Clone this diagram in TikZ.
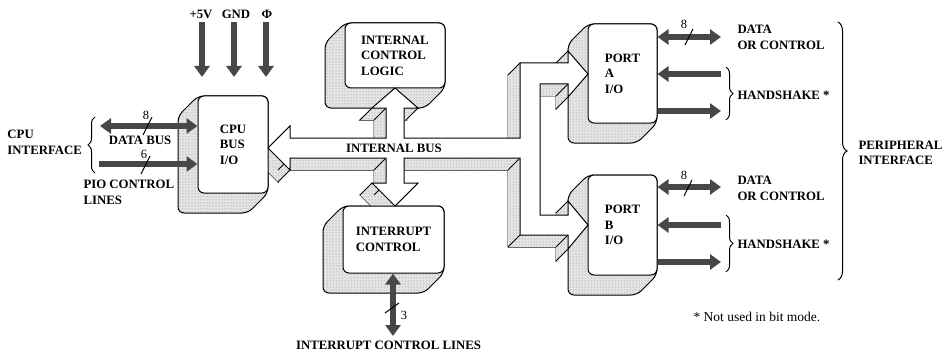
\documentclass[tikz,border=0pt]{standalone}
\usepackage{fontspec}
\setmainfont{Liberation Serif}
\usetikzlibrary{arrows.meta,calc,patterns,decorations.pathreplacing}
\newcommand\lblfont{\bfseries\fontsize{12.8}{15.5}\selectfont}
\newcommand\numfont{\fontsize{12.5}{13}\selectfont}
\begin{document}
\begin{tikzpicture}[x=1pt,y=-1pt,line width=1pt,
  stip/.style={preaction={fill=black!10},preaction={pattern=dots,pattern color=black!50}},
  face/.style={draw,fill=white,rounded corners=6pt,line width=1pt,align=left,font=\lblfont,inner sep=0pt},
  lbl/.style={font=\lblfont,inner sep=0pt,align=left},
  num/.style={font=\numfont,inner sep=0pt},
  sig/.style={draw=black!72,line width=6.5pt,line cap=butt},
  >={Triangle[width=15pt,length=11pt]},
  brc/.style={decorate,decoration={brace,amplitude=7pt},line width=1pt}]
\useasboundingbox (0,0) rectangle (951,353);

% ---------- box shadows (extruded back parts)
\newcommand\boxshadow[4]{%
  \draw[stip,rounded corners=6pt] (#1,#2) -- (#3,#2) -- (#3,#4) -- (#3-20,#4+20)
     -- (#1-20,#4+20) -- (#1-20,#2+20) -- cycle;}
\boxshadow{198}{96}{268}{193}
\boxshadow{345}{23}{445}{88}
\boxshadow{343}{206}{444}{273}
\boxshadow{588}{24}{657}{123}
\boxshadow{588}{175}{657}{275}

% ---------- internal bus outline points
\def\buspts{268/148,290/126,290/138,386/138,386/108,372/108,395/88,418/108,404/108,404/138,%
520/138,520/63,568/63,568/51,588/74,568/97,568/84,540/84,540/215,568/215,568/201,588/225,%
568/249,568/235,520/235,520/158,404/158,404/183,418/183,395/206,372/183,386/183,386/158,290/158,290/170}
\foreach \x/\y [count=\k] in \buspts {\coordinate (P\k) at (\x,\y);}

% back face of the bus
\draw[stip] ($(P1)+(-12,12)$) \foreach \k in {2,...,35}{ -- ($(P\k)+(-12,12)$)} -- cycle;
% side faces
\foreach \i in {1,...,35}{%
  \pgfmathtruncatemacro\j{mod(\i,35)+1}
  \path[stip] (P\i) -- (P\j) -- ($(P\j)+(-12,12)$) -- ($(P\i)+(-12,12)$) -- cycle;}
\foreach \k in {1,...,35}{\draw (P\k) -- ($(P\k)+(-12,12)$);}

% ---------- box fronts
\node[face,minimum width=70pt,minimum height=97pt] (cpu) at (233,144.5) {CPU\\BUS\\I/O};
\node[face,minimum width=100pt,minimum height=65pt] (icl) at (395,55.5) {INTERNAL\\CONTROL\\LOGIC};
\node[face,minimum width=101pt,minimum height=67pt] (ic) at (393.5,239.5) {INTERRUPT\\CONTROL};
\node[face,minimum width=69pt,minimum height=99pt] (pa) at (622.5,73.5) {PORT\\A\\I/O};
\node[face,minimum width=69pt,minimum height=100pt] (pb) at (622.5,225) {PORT\\B\\I/O};

% ---------- bus front face
\draw[fill=white,line join=miter] (P1) \foreach \k in {2,...,35}{ -- (P\k)} -- cycle;
\node[lbl] (ibus) at (394,148) {INTERNAL BUS};

% ---------- power inputs
\node[lbl] (v5) at (201,14) {+5V};
\node[lbl] (gnd) at (236,14) {GND};
\node[lbl] (phi) at (267,14) {Φ};
\coordinate (pw1) at (202,22); \coordinate (pw1e) at (202,77);
\coordinate (pw2) at (234,22); \coordinate (pw2e) at (234,77);
\coordinate (pw3) at (266,22); \coordinate (pw3e) at (266,77);
\draw[sig,->] (pw1) -- (pw1e);
\draw[sig,->] (pw2) -- (pw2e);
\draw[sig,->] (pw3) -- (pw3e);

% ---------- CPU interface
\coordinate (cdb) at (100,126);
\coordinate (cpio) at (99,164);
\draw[sig,<->] (cdb) -- (cdb -| cpu.west);
\draw[sig,->] (cpio) -- (cpio -| cpu.west);
\draw (143,135) -- (152,117);
\node[num] (n8a) at (146,115) {8};
\draw (141,174) -- (150,156);
\node[num] (n6) at (144,154) {6};
\node[lbl] (dbus) at (140,140) {DATA BUS};
\node[lbl,anchor=west] (pio) at (83,192.5) {PIO CONTROL\\LINES};
\draw[brc] (95,173) -- (95,117);
\node[lbl,anchor=west] (cpuif) at (7,142.5) {CPU\\INTERFACE};

% ---------- interrupt lines
\coordinate (icle) at (393,336);
\draw[sig,<->] (icle |- ic.south) -- (icle);
\draw (385,313) -- (399,303);
\node[num] (n3) at (404,315) {3};
\node[lbl] (icll) at (388.5,345.5) {INTERRUPT CONTROL LINES};

% ---------- port A
\coordinate (pad) at (721,37);
\coordinate (pai) at (721,74);
\coordinate (pao) at (721,111);
\draw[sig,<->] (pad -| pa.east) -- (pad);
\draw[sig,->] (pai) -- (pai -| pa.east);
\draw[sig,->] (pao -| pa.east) -- (pao);
\draw (685,45) -- (693,29);
\node[num] (n8b) at (684,24) {8};
\node[lbl,anchor=west] (dca) at (737,37.5) {DATA\\OR CONTROL};
\draw[brc] (726,67) -- (726,120);
\node[lbl,anchor=west] (hsa) at (737,95) {HANDSHAKE *};

% ---------- port B
\coordinate (pbd) at (721,187);
\coordinate (pbi) at (721,225);
\coordinate (pbo) at (721,262);
\draw[sig,<->] (pbd -| pb.east) -- (pbd);
\draw[sig,->] (pbi) -- (pbi -| pb.east);
\draw[sig,->] (pbo -| pb.east) -- (pbo);
\draw (684,196) -- (692,180);
\node[num] (n8c) at (684,175) {8};
\node[lbl,anchor=west] (dcb) at (737,188.5) {DATA\\OR CONTROL};
\draw[brc] (726,215) -- (726,272);
\node[lbl,anchor=west] (hsb) at (737,244) {HANDSHAKE *};

% ---------- peripheral interface
\draw[brc,decoration={brace,amplitude=9pt}] (838,22) -- (838,280);
\node[lbl,anchor=west] (perif) at (858,153) {PERIPHERAL\\INTERFACE};
\node[font=\fontsize{13.5}{15}\selectfont,inner sep=0pt,anchor=west] (note) at (693,317) {* Not used in bit mode.};
\end{tikzpicture}
\end{document}
